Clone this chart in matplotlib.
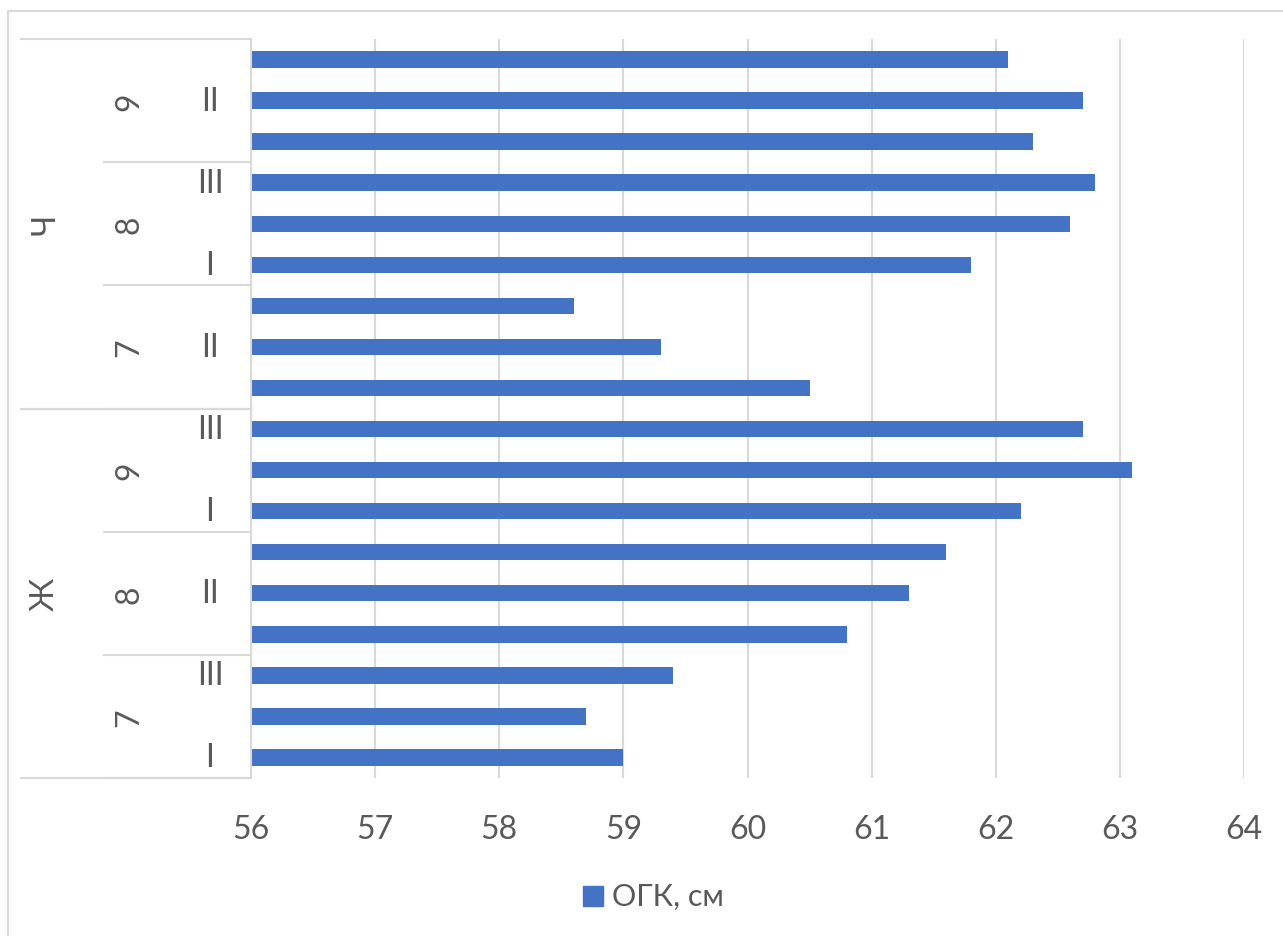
import matplotlib.pyplot as plt
from matplotlib import transforms
from matplotlib.patches import Rectangle

plt.rcParams['font.family'] = ['Lato', 'DejaVu Sans']

# categories: sex -> grade -> class letter (bottom to top)
sexes = ['Ж', 'Ч']
grades = ['7', '8', '9']
classes = ['I', 'II', 'III']
values = [59.0, 58.7, 59.4,
          60.8, 61.3, 61.6,
          62.2, 63.1, 62.7,
          60.5, 59.3, 58.6,
          61.8, 62.6, 62.8,
          62.3, 62.7, 62.1]
series_name = 'ОГК, см'

bar_color = '#4472C4'
grid_color = '#D9D9D9'
text_color = '#595959'

W, H = 1283, 937
fig = plt.figure(figsize=(W / 100, H / 100), dpi=100)

# chart frame (partly cut by the image edge)
fig.patches.append(Rectangle((8 / W, -0.01), 1.1, (H - 12) / H + 0.01,
                             transform=fig.transFigure, fill=False,
                             edgecolor=grid_color, linewidth=1.5))

left, right, top, bottom = 251, 1244, 40, 779
ax = fig.add_axes([left / W, (H - bottom) / H, (right - left) / W, (bottom - top) / H])

n = len(values)
y = list(range(n))
ax.barh(y, values, height=0.4, color=bar_color, left=0)
ax.set_xlim(56, 64)
ax.set_ylim(-0.5, n - 0.5)
ax.set_xticks(range(56, 65))
ax.tick_params(axis='x', length=0, labelsize=23, labelcolor=text_color, pad=26)
ax.set_yticks([])
ax.grid(axis='x', color=grid_color, linewidth=1.5)
ax.set_axisbelow(True)
for s in ['top', 'right', 'bottom']:
    ax.spines[s].set_visible(False)
ax.spines['left'].set_color(grid_color)
ax.spines['left'].set_linewidth(1.5)

# multi-level category axis
tr = transforms.blended_transform_factory(fig.transFigure, ax.transData)
x_axis = left / W
x_outer, x_mid = 21 / W, 104 / W

i = 0
for s_i, sx in enumerate(sexes):
    for g_i, gr in enumerate(grades):
        for c_i, cl in enumerate(classes):
            if i % 2 == 0:
                ax.text(210 / W, i, cl, transform=tr, ha='center', va='center',
                        fontsize=23, color=text_color)
            i += 1
        mid = s_i * 9 + g_i * 3 + 1
        ax.text(129 / W, mid, gr, transform=tr, ha='center', va='center',
                rotation=90, fontsize=23, color=text_color)
        ax.plot([x_mid, x_axis], [s_i * 9 + g_i * 3 - 0.5] * 2, transform=tr,
                color=grid_color, linewidth=1.5, clip_on=False)
    ax.text(45 / W, s_i * 9 + 4, sx, transform=tr, ha='center', va='center',
            rotation=90, fontsize=23, color=text_color)
    for b in (s_i * 9 - 0.5, s_i * 9 + 8.5):
        ax.plot([x_outer, x_axis], [b, b], transform=tr,
                color=grid_color, linewidth=1.5, clip_on=False)

# legend
fig.patches.append(Rectangle((583 / W, (H - 907) / H), 20 / W, 20 / H,
                             transform=fig.transFigure, color=bar_color))
fig.text(612 / W, (H - 897) / H, series_name, ha='left', va='center',
         fontsize=22, color=text_color)

fig.savefig('out.png', dpi=100)
